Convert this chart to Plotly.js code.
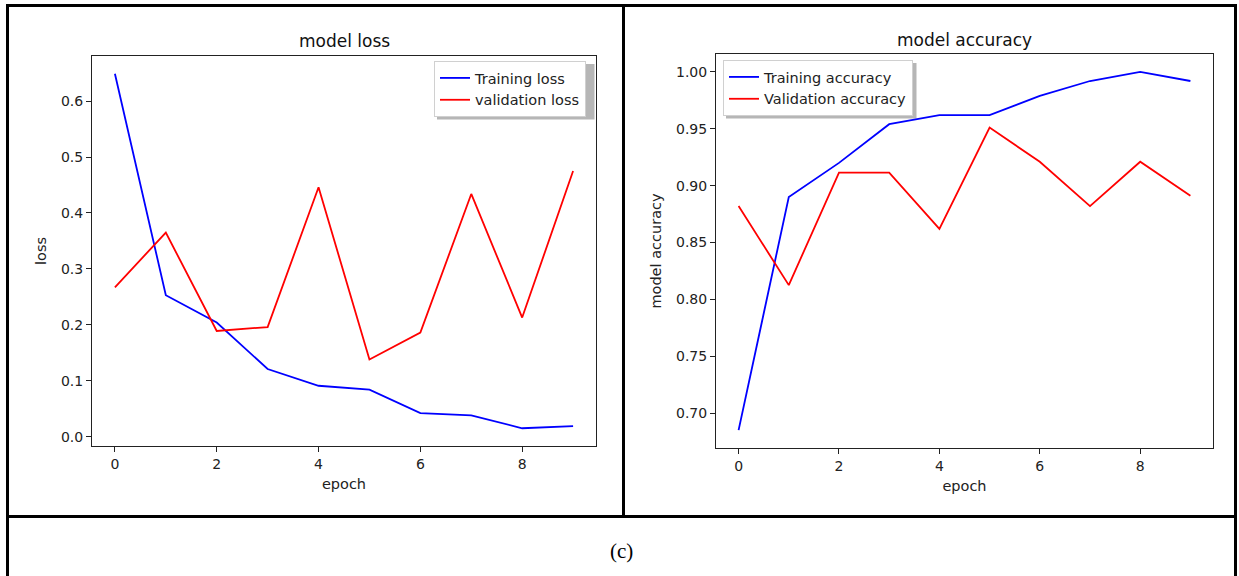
<!DOCTYPE html>
<html>
<head>
<meta charset="utf-8">
<script src="https://cdn.plot.ly/plotly-3.0.1.min.js"></script>
<style>html,body{margin:0;padding:0;background:#fff;}#chart{width:1239px;height:576px;}</style>
</head>
<body>
<div id="chart"></div>
<script>
// ---- data ----
const epochs = [0, 1, 2, 3, 4, 5, 6, 7, 8, 9];
const trainingLoss = [0.649, 0.253, 0.204, 0.121, 0.091, 0.084, 0.042, 0.038, 0.015, 0.019];
const validationLoss = [0.267, 0.365, 0.189, 0.196, 0.446, 0.138, 0.186, 0.434, 0.213, 0.475];
const trainingAcc = [0.685, 0.890, 0.920, 0.954, 0.962, 0.962, 0.979, 0.992, 1.000, 0.992];
const validationAcc = [0.882, 0.8125, 0.9115, 0.9115, 0.862, 0.951, 0.921, 0.882, 0.921, 0.891];
const xTicks = [0, 2, 4, 6, 8];
const lossTicks = [0.0, 0.1, 0.2, 0.3, 0.4, 0.5, 0.6];
const accTicks = [0.70, 0.75, 0.80, 0.85, 0.90, 0.95, 1.00];

const W = 1239, H = 576;
const px = v => v / W;
const py = v => 1 - v / H;
const FONT = 'DejaVu Sans, sans-serif';

const lineW = 1.8;
const traces = [
  {x: epochs, y: trainingLoss, name: 'Training loss', type: 'scatter', mode: 'lines',
   line: {color: '#0000ff', width: lineW}, xaxis: 'x', yaxis: 'y', legend: 'legend'},
  {x: epochs, y: validationLoss, name: 'validation loss', type: 'scatter', mode: 'lines',
   line: {color: '#ff0000', width: lineW}, xaxis: 'x', yaxis: 'y', legend: 'legend'},
  {x: epochs, y: trainingAcc, name: 'Training accuracy', type: 'scatter', mode: 'lines',
   line: {color: '#0000ff', width: lineW}, xaxis: 'x2', yaxis: 'y2', legend: 'legend2'},
  {x: epochs, y: validationAcc, name: 'Validation accuracy', type: 'scatter', mode: 'lines',
   line: {color: '#ff0000', width: lineW}, xaxis: 'x2', yaxis: 'y2', legend: 'legend2'}
];

const axisCommon = {
  showline: true, mirror: true, linecolor: '#222', linewidth: 1,
  ticks: 'outside', ticklen: 5, tickwidth: 1, tickcolor: '#222',
  showgrid: false, zeroline: false,
  tickfont: {family: FONT, size: 14, color: '#222'}
};

function range(vals, pad) {
  const mn = Math.min(...vals), mx = Math.max(...vals);
  const d = (mx - mn) * pad;
  return [mn - d, mx + d];
}

const lossAll = trainingLoss.concat(validationLoss);
const accAll = trainingAcc.concat(validationAcc);

const layout = {
  width: W, height: H,
  margin: {l: 0, r: 0, t: 0, b: 0},
  paper_bgcolor: '#fff', plot_bgcolor: 'rgba(0,0,0,0)',
  showlegend: true,
  xaxis: Object.assign({}, axisCommon, {
    domain: [px(92), px(596)], anchor: 'y', range: range(epochs, 0.05), tickvals: xTicks,
    title: {text: 'epoch', font: {family: FONT, size: 14.5, color: '#222'}, standoff: 8}
  }),
  yaxis: Object.assign({}, axisCommon, {
    domain: [py(446), py(56)], anchor: 'x', range: range(lossAll, 0.05), tickvals: lossTicks, tickformat: '.1f',
    title: {text: 'loss', font: {family: FONT, size: 14.5, color: '#222'}, standoff: 10}
  }),
  xaxis2: Object.assign({}, axisCommon, {
    domain: [px(716), px(1213)], anchor: 'y2', range: range(epochs, 0.05), tickvals: xTicks,
    title: {text: 'epoch', font: {family: FONT, size: 14.5, color: '#222'}, standoff: 8}
  }),
  yaxis2: Object.assign({}, axisCommon, {
    domain: [py(448), py(54)], anchor: 'x2', range: range(accAll, 0.05), tickvals: accTicks, tickformat: '.2f',
    title: {text: 'model accuracy', font: {family: FONT, size: 14.5, color: '#222'}, standoff: 10}
  }),
  legend: {
    x: px(434), y: py(61), xanchor: 'left', yanchor: 'top', xref: 'paper', yref: 'paper',
    bgcolor: '#fff', bordercolor: '#d0d0d0', borderwidth: 1, itemwidth: 30,
    font: {family: FONT, size: 14.5, color: '#222'}, tracegroupgap: 0
  },
  legend2: {
    x: px(723), y: py(60), xanchor: 'left', yanchor: 'top', xref: 'paper', yref: 'paper',
    bgcolor: '#fff', bordercolor: '#d0d0d0', borderwidth: 1, itemwidth: 30,
    font: {family: FONT, size: 14.5, color: '#222'}, tracegroupgap: 0
  },
  annotations: [
    {text: 'model loss', x: px(344), y: py(41), xref: 'paper', yref: 'paper', showarrow: false,
     xanchor: 'center', yanchor: 'middle', font: {family: FONT, size: 17, color: '#111'}},
    {text: 'model accuracy', x: px(964), y: py(40), xref: 'paper', yref: 'paper', showarrow: false,
     xanchor: 'center', yanchor: 'middle', font: {family: FONT, size: 17, color: '#111'}},
    {text: '(c)', x: px(621), y: py(551), xref: 'paper', yref: 'paper', showarrow: false,
     xanchor: 'center', yanchor: 'middle', font: {family: 'Liberation Serif, serif', size: 21, color: '#000'}}
  ],
  shapes: [
    // legend shadows
    {type: 'rect', xref: 'paper', yref: 'paper', x0: px(437), x1: px(594.5), y0: py(119.5), y1: py(64),
     fillcolor: 'rgba(110,110,110,0.5)', line: {width: 0}, layer: 'below'},
    {type: 'rect', xref: 'paper', yref: 'paper', x0: px(726), x1: px(916.5), y0: py(118.5), y1: py(63),
     fillcolor: 'rgba(110,110,110,0.5)', line: {width: 0}, layer: 'below'},
    // frame
    {type: 'line', xref: 'paper', yref: 'paper', x0: px(7.5), x1: px(1235.5), y0: py(5.5), y1: py(5.5), line: {color: '#000', width: 3}},
    {type: 'line', xref: 'paper', yref: 'paper', x0: px(7.5), x1: px(7.5), y0: py(4), y1: 0, line: {color: '#000', width: 3}},
    {type: 'line', xref: 'paper', yref: 'paper', x0: px(1235.5), x1: px(1235.5), y0: py(4), y1: 0, line: {color: '#000', width: 3}},
    {type: 'line', xref: 'paper', yref: 'paper', x0: px(623.5), x1: px(623.5), y0: py(4), y1: py(516.5), line: {color: '#000', width: 3}},
    {type: 'line', xref: 'paper', yref: 'paper', x0: px(7.5), x1: px(1235.5), y0: py(516.5), y1: py(516.5), line: {color: '#000', width: 3}}
  ]
};

Plotly.newPlot('chart', traces, layout, {displayModeBar: false, staticPlot: true});
</script>
</body>
</html>
